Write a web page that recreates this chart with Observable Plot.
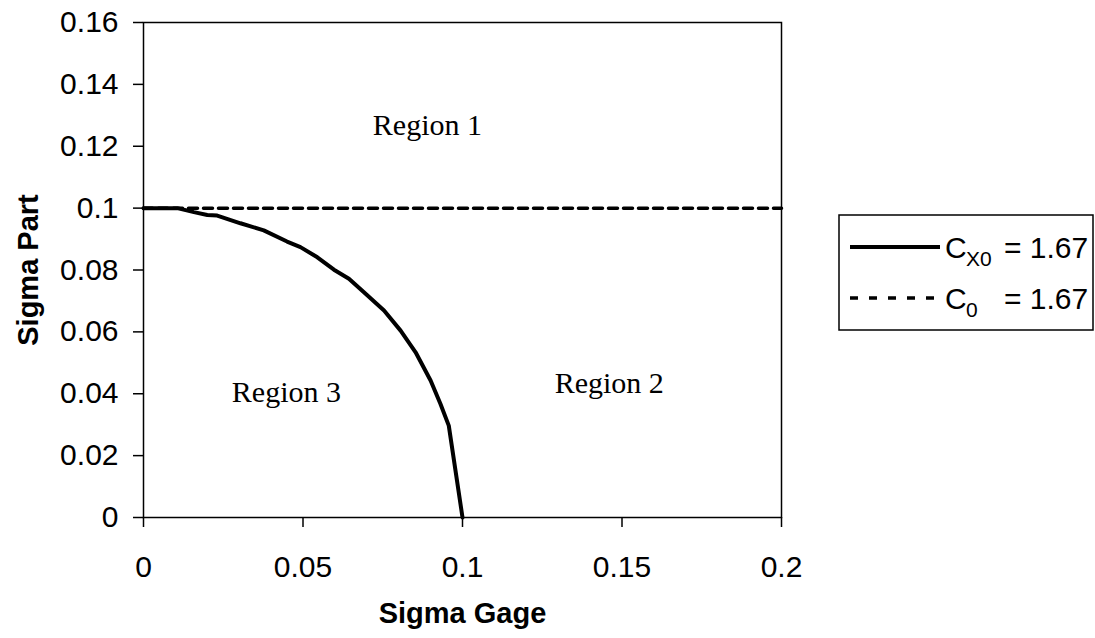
<!DOCTYPE html>
<html><head><meta charset="utf-8">
<script src="https://cdn.jsdelivr.net/npm/d3@7"></script>
<script src="https://cdn.jsdelivr.net/npm/@observablehq/plot@0.6"></script>
<style>
html,body{margin:0;padding:0;background:#fff;}
#wrap{position:relative;width:1095px;height:638px;overflow:hidden;background:#fff;}
#legend{position:absolute;left:0;top:0;}
</style></head><body><div id="wrap"></div>
<script>
// Solid curve: C_X0 = 1.67
const curveX = [0, 0.0106, 0.0158, 0.0200, 0.0231, 0.0304, 0.0377, 0.0450, 0.0492, 0.0545, 0.0597, 0.0644, 0.0691, 0.0754, 0.0806, 0.0853, 0.0900, 0.0931, 0.0957, 0.1000];
const curveY = [0.1, 0.1, 0.0987, 0.0978, 0.0976, 0.0951, 0.0928, 0.0892, 0.0874, 0.0841, 0.0801, 0.0772, 0.0728, 0.0669, 0.0604, 0.0534, 0.0443, 0.0367, 0.0297, 0];
// Dashed line: C_0 = 1.67
const refX = [0, 0.2];
const refY = [0.1, 0.1];
const xTicks = [0, 0.05, 0.1, 0.15, 0.2];
const xTickLabels = ["0", "0.05", "0.1", "0.15", "0.2"];
const yTicks = [0, 0.02, 0.04, 0.06, 0.08, 0.1, 0.12, 0.14, 0.16];
const yTickLabels = ["0", "0.02", "0.04", "0.06", "0.08", "0.1", "0.12", "0.14", "0.16"];
const regionNames = ["Region 1", "Region 2", "Region 3"];
const regionX = [0.089, 0.146, 0.0448];
const regionY = [0.1267, 0.0433, 0.0404];
const xTitle = "Sigma Gage";
const yTitle = "Sigma Part";
const legendMain = ["C", "C"];
const legendSub = ["X0", "0"];
const legendValue = ["= 1.67", "= 1.67"];

const curve = curveX.map((x, i) => ({x, y: curveY[i]}));
const ref = refX.map((x, i) => ({x, y: refY[i]}));
const regions = regionNames.map((t, i) => ({t, x: regionX[i], y: regionY[i]}));
const sans = "'Liberation Sans', Arial, sans-serif";
const serif = "'Liberation Serif', 'Times New Roman', serif";

const chart = Plot.plot({
  width: 1095, height: 638,
  marginLeft: 143, marginRight: 314, marginTop: 22, marginBottom: 121,
  style: {fontFamily: sans, fontSize: "30px", color: "#000", background: "#fff"},
  x: {domain: [0, 0.2]},
  y: {domain: [0, 0.16]},
  marks: [
    Plot.frame({stroke: "#000", strokeWidth: 1.5}),
    Plot.axisX({ticks: xTicks, tickFormat: d => xTickLabels[xTicks.indexOf(d)], tickSize: 10, tickPadding: 28, fontSize: 30, label: null, strokeWidth: 1.5}),
    Plot.axisY({ticks: yTicks, tickFormat: d => yTickLabels[yTicks.indexOf(d)], tickSize: 10, tickPadding: 15, fontSize: 30, label: null, strokeWidth: 1.5}),
    Plot.line(ref, {x: "x", y: "y", stroke: "#000", strokeWidth: 3.5, strokeDasharray: "9,6"}),
    Plot.line(curve, {x: "x", y: "y", stroke: "#000", strokeWidth: 4, strokeLinejoin: "round"}),
    Plot.text(regions, {x: "x", y: "y", text: "t", fontFamily: serif, fontSize: 30, fill: "#000"}),
    Plot.text([xTitle], {frameAnchor: "bottom", dy: 96, lineAnchor: "middle", textAnchor: "middle", fontWeight: "bold", fontSize: 29, fill: "#000"}),
    Plot.text([yTitle], {frameAnchor: "left", dx: -115, rotate: -90, textAnchor: "middle", lineAnchor: "middle", fontWeight: "bold", fontSize: 29, fill: "#000"})
  ]
});
const wrap = document.getElementById("wrap");
wrap.appendChild(chart);

// Legend
const lg = d3.select(wrap).append("svg").attr("id", "legend")
  .attr("width", 1095).attr("height", 638)
  .style("font-family", sans);
lg.append("rect").attr("x", 839).attr("y", 215).attr("width", 254).attr("height", 115)
  .attr("fill", "#fff").attr("stroke", "#000").attr("stroke-width", 1.5);
const rows = [247, 298];
const dashes = [null, "8,11"];
rows.forEach((ry, i) => {
  lg.append("line").attr("x1", 850).attr("x2", 940).attr("y1", ry).attr("y2", ry)
    .attr("stroke", "#000").attr("stroke-width", i === 0 ? 4 : 3.5)
    .attr("stroke-dasharray", dashes[i]);
  lg.append("text").attr("x", 945).attr("y", ry + 11).attr("font-size", 30).text(legendMain[i]);
  lg.append("text").attr("x", 966).attr("y", ry + 19).attr("font-size", 21).text(legendSub[i]);
  lg.append("text").attr("x", 1004).attr("y", ry + 11).attr("font-size", 30).text(legendValue[i]);
});
</script></body></html>
